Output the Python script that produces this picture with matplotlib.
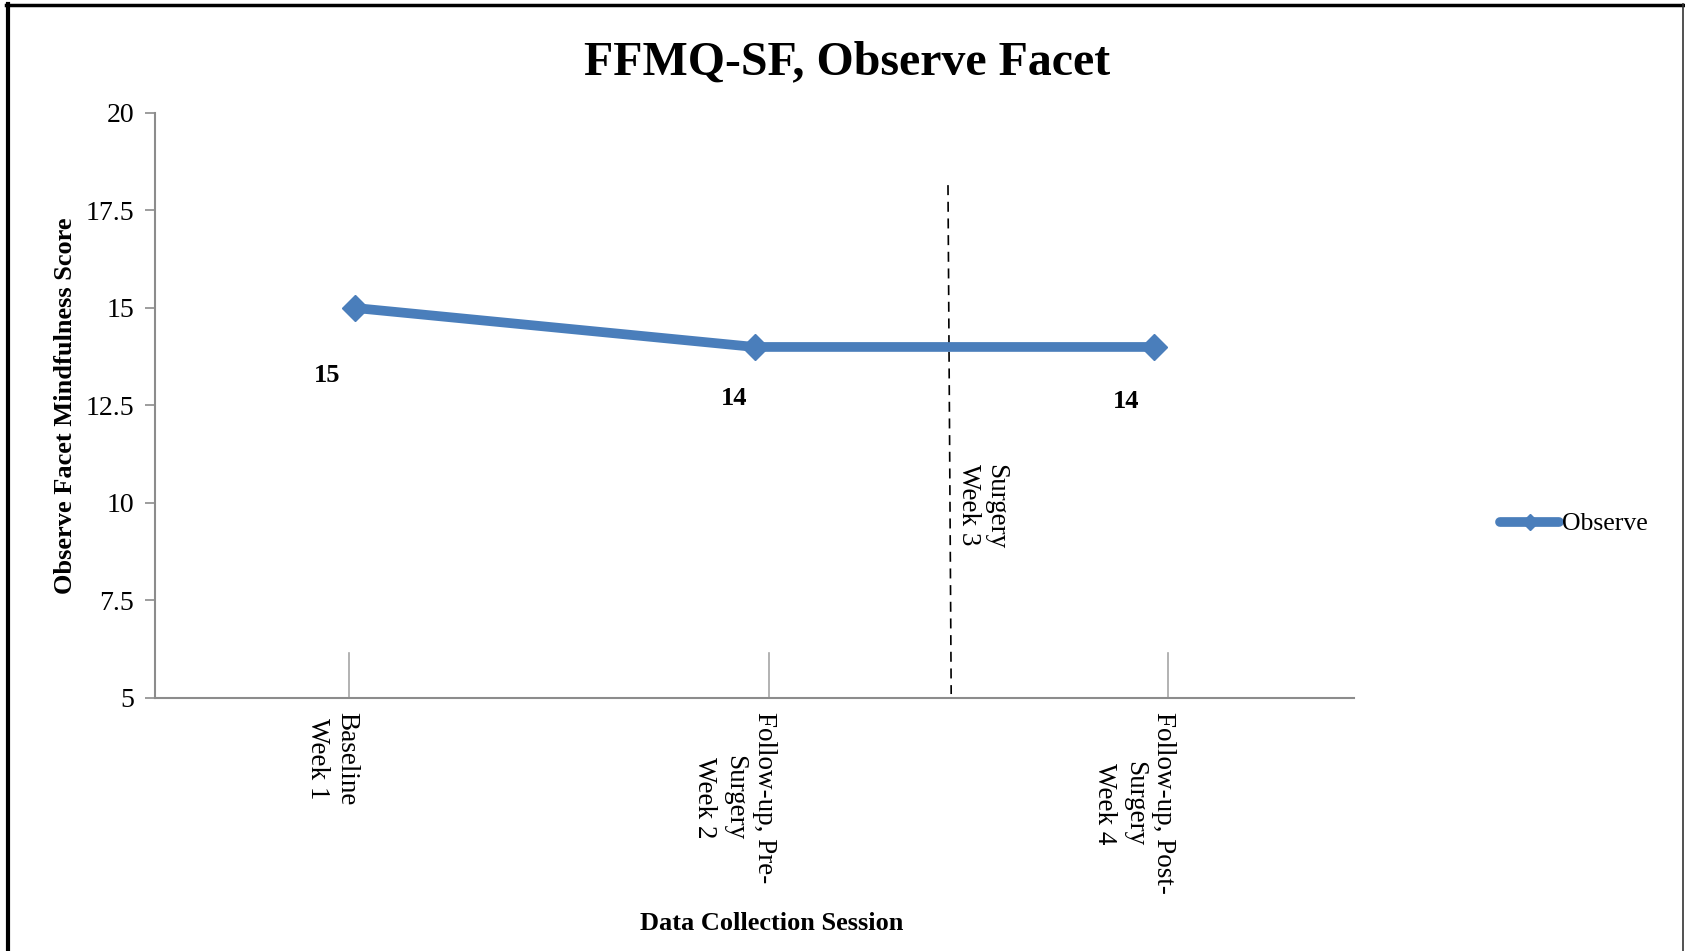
import numpy as np
import matplotlib
matplotlib.use("Agg")
import matplotlib.pyplot as plt
from matplotlib.lines import Line2D

# observe facet scores per session
sessions = ["Baseline\nWeek 1", "Follow-up, Pre-\nSurgery\nWeek 2", "Follow-up, Post-\nSurgery\nWeek 4"]
scores = [15, 14, 14]
y_ticks = [5, 7.5, 10, 12.5, 15, 17.5, 20]
series_name = "Observe"
surgery_label = "Surgery\nWeek 3"

plt.rcParams["font.family"] = ["Liberation Serif", "DejaVu Serif"]

blue = "#4A7EBB"
grey = "#8C8C8C"

fig = plt.figure(figsize=(16.85, 9.51), dpi=100)
ax = fig.add_axes([0.092, 0.2661, 0.7116, 0.6151])

x = np.arange(len(scores))
ax.plot(x, scores, color=blue, lw=7, marker="D", markersize=13,
        solid_capstyle="round", label=series_name, zorder=3)

# data labels sit a little below/left of each point
label_dx = [-0.07, -0.05, -0.07]
label_dy = [-1.74, -1.31, -1.41]
for i, v in enumerate(scores):
    ax.text(x[i] + label_dx[i], v + label_dy[i], f"{v}", ha="center", va="center",
            fontsize=19, fontweight="bold")

ax.set_xlim(-0.5, len(scores) - 0.5)
ax.set_ylim(5, 20)
ax.set_yticks(y_ticks)
ax.set_yticklabels([f"{t:g}" for t in y_ticks], fontsize=20)
ax.tick_params(axis="y", direction="out", length=7, width=1.2, color=grey, pad=8)
ax.set_xticks([])

for side in ["top", "right"]:
    ax.spines[side].set_visible(False)
for side in ["left", "bottom"]:
    ax.spines[side].set_color(grey)
    ax.spines[side].set_linewidth(1.5)

# category markers drawn as short upright strokes, first label line on the stroke
tick_pos = [-0.015, 1.035, 2.035]
line_step = 0.085  # one text line, in x data units
for tp, name in zip(tick_pos, sessions):
    ax.plot([tp, tp], [5, 6.15], color="#A6A6A6", lw=1.2, clip_on=False)
    n = name.count("\n")
    ax.text(tp - n * line_step / 2, 4.63, name, rotation=-90, ha="center", va="top",
            multialignment="center", fontsize=19.5, linespacing=1.25,
            clip_on=False)

# surgery marker
ax.plot([1.484, 1.492], [18.15, 5.1], color="black", lw=1.2, ls=(0, (6, 4)), zorder=2)
ax.text(1.57, 9.9, surgery_label, rotation=-90, ha="center", va="center",
        multialignment="left", fontsize=19.5, linespacing=1.12)

ax.set_ylabel("Observe Facet Mindfulness Score", fontsize=19, fontweight="bold")
ax.yaxis.set_label_coords(-0.065, 0.499)
ax.set_xlabel("Data Collection Session", fontsize=19, fontweight="bold")
ax.xaxis.set_label_coords(0.5146, -0.366)
ax.xaxis.label.set_va("top")

fig.text(0.5027, 0.934, "FFMQ-SF, Observe Facet", ha="center", va="center",
         fontsize=34.5, fontweight="bold")

fig.legend(loc="center left", bbox_to_anchor=(1500 / 1685, 1 - 524 / 951),
           frameon=False, fontsize=18.5, handlelength=2.3, handletextpad=0.1,
           borderpad=0, borderaxespad=0, markerscale=0.6)

# outer frame
fig.add_artist(Line2D([0.0048, 0.0048], [0, 0.996], transform=fig.transFigure,
                      color="black", lw=3))
fig.add_artist(Line2D([0.0035, 0.999], [0.9952, 0.9952], transform=fig.transFigure,
                      color="black", lw=2.5))
fig.add_artist(Line2D([0.9988, 0.9988], [0, 0.996], transform=fig.transFigure,
                      color="#333333", lw=1.2))

fig.savefig("out.png", dpi=100, facecolor="white")
